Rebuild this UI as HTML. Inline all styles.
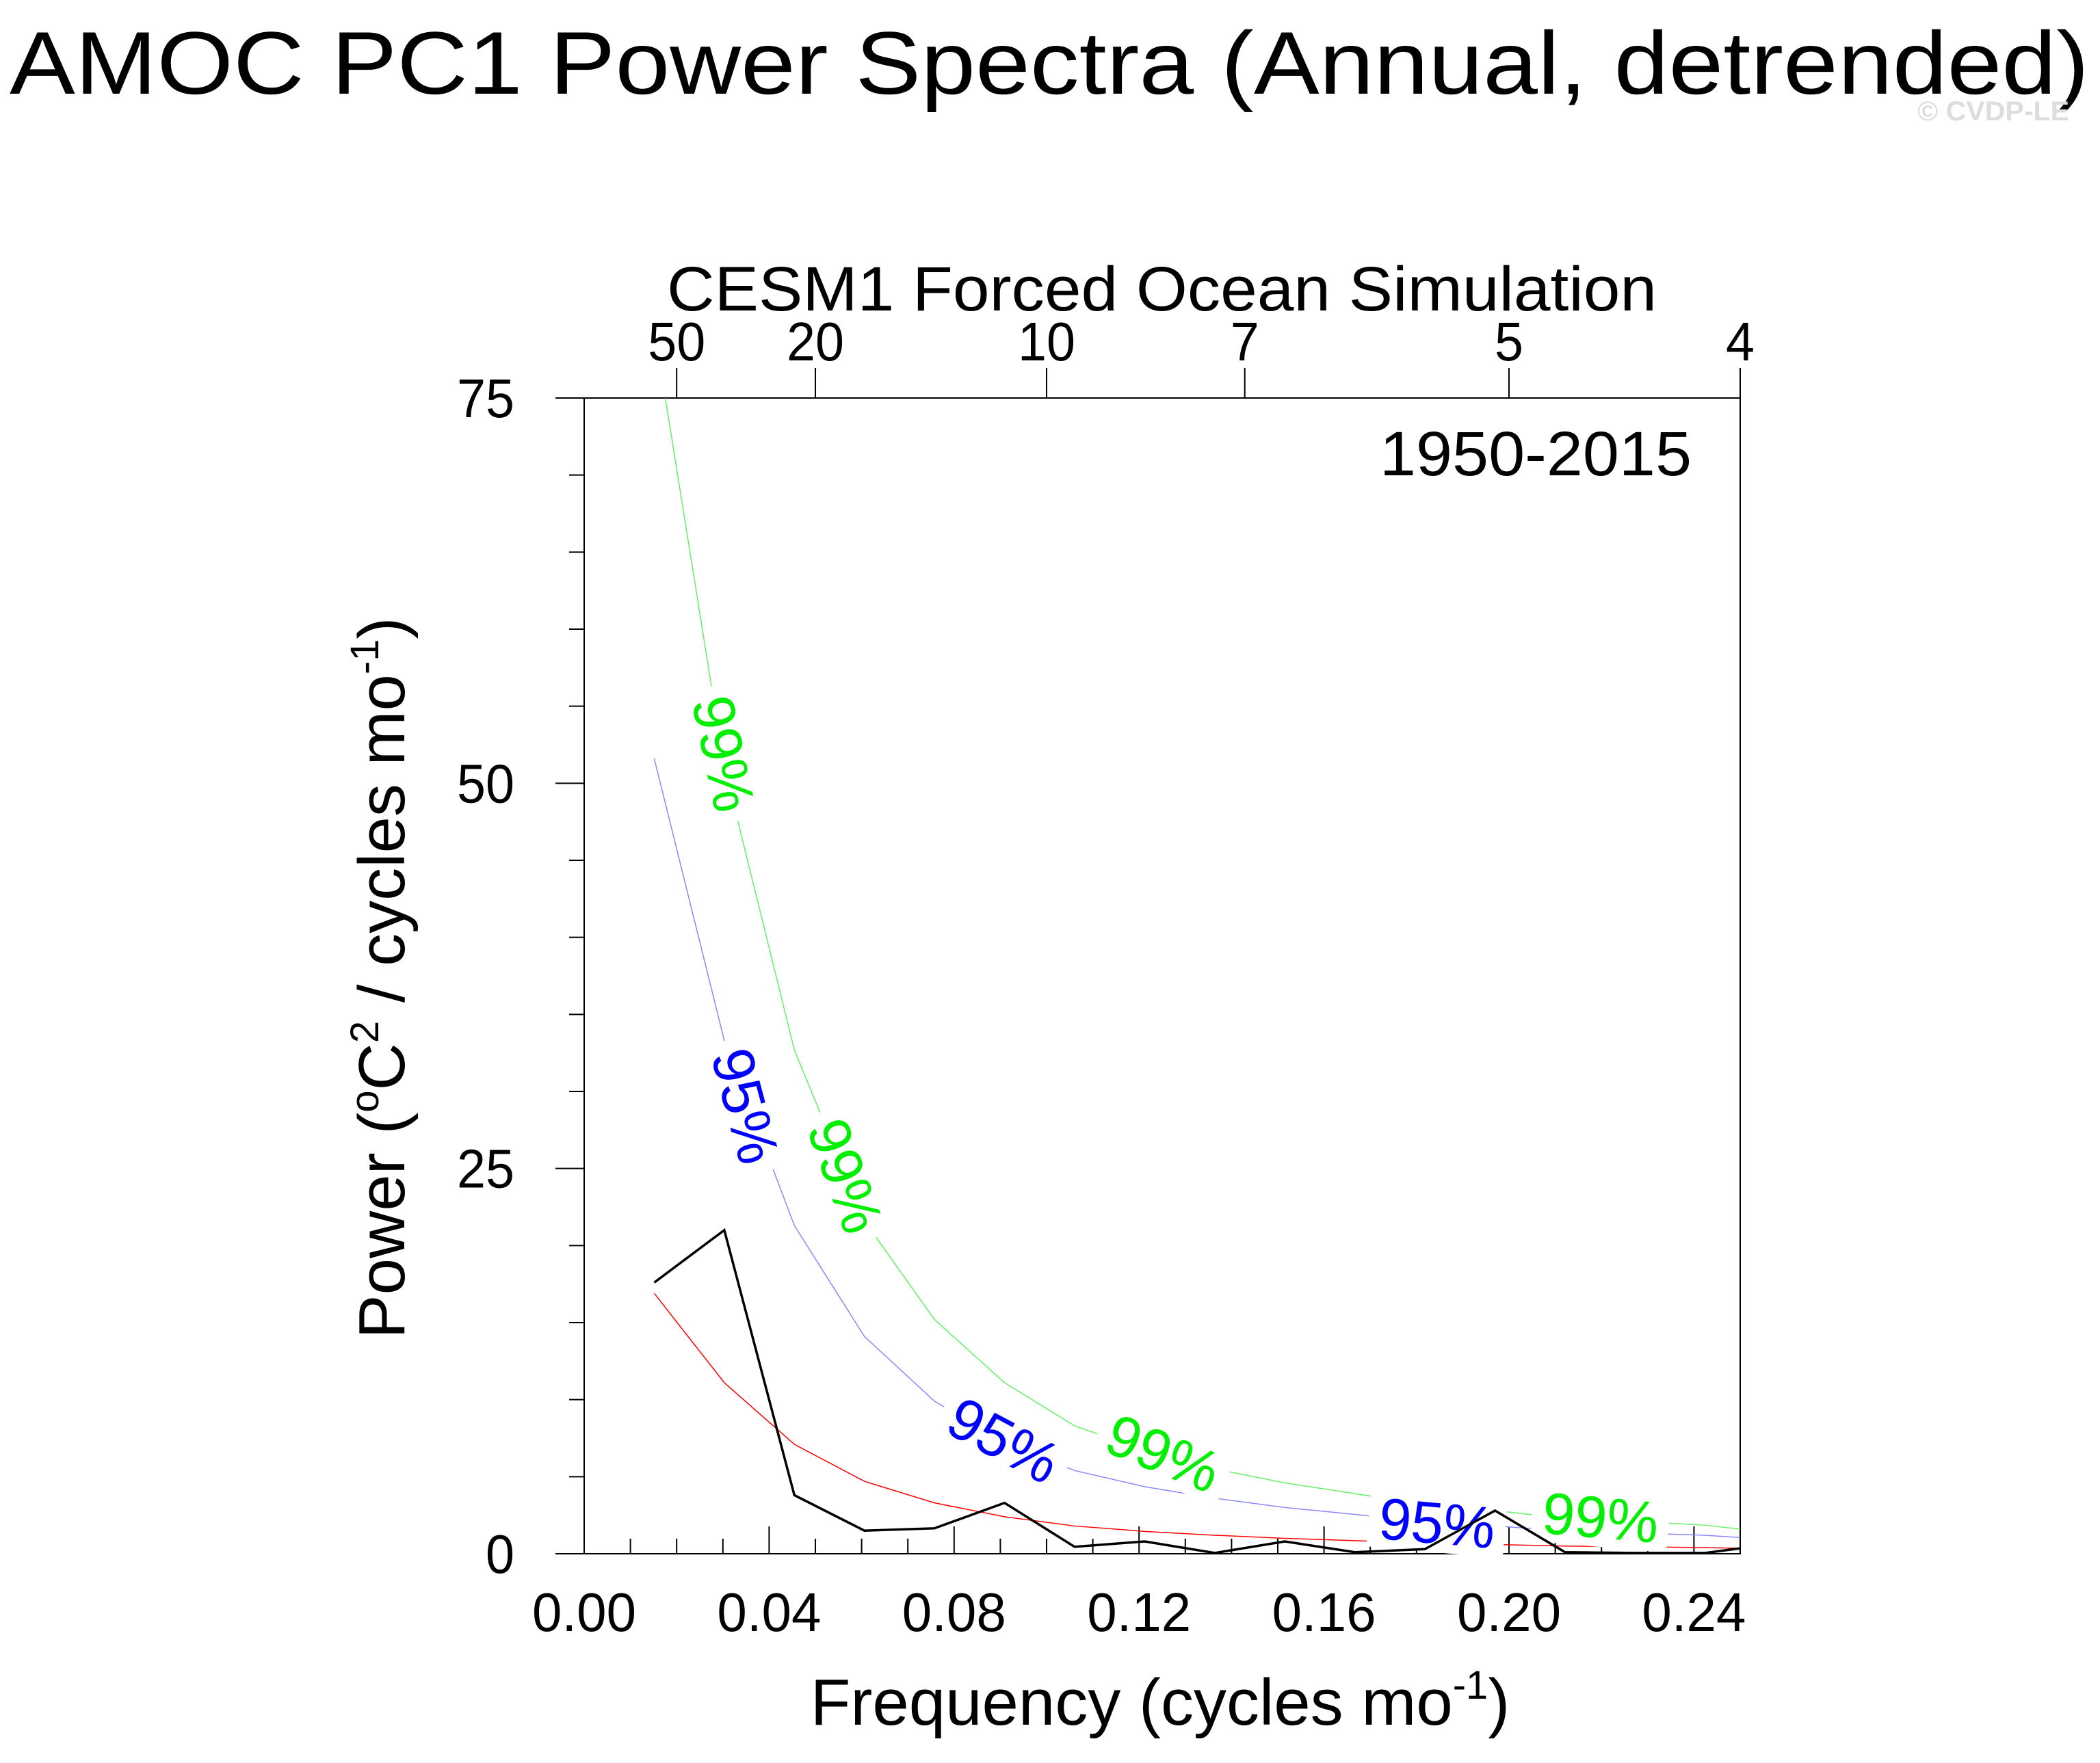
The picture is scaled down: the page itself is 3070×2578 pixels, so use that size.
<!DOCTYPE html>
<html><head><meta charset="utf-8"><style>html,body{margin:0;padding:0;background:#fff}svg{display:block}text{font-family:"Liberation Sans",sans-serif}</style></head>
<body>
<svg id="chart" width="3070" height="2578" viewBox="0 0 3070 2578" xmlns="http://www.w3.org/2000/svg">
<defs><clipPath id="clip"><rect x="854" y="582" width="1690" height="1690"/></clipPath></defs>
<text x="14" y="137" font-size="130" textLength="3040" lengthAdjust="spacingAndGlyphs">AMOC PC1 Power Spectra (Annual, detrended)</text>
<text x="2803" y="176" font-size="40" font-weight="bold" fill="#dddddd" textLength="222" lengthAdjust="spacingAndGlyphs">© CVDP-LE</text>
<text x="975" y="454" font-size="92" textLength="1447" lengthAdjust="spacingAndGlyphs">CESM1 Forced Ocean Simulation</text>
<text x="2017" y="695" font-size="92" textLength="456" lengthAdjust="spacingAndGlyphs">1950-2015</text>
<text x="1696" y="2522" font-size="96" text-anchor="middle">Frequency (cycles mo<tspan dy="-38" font-size="58">-1</tspan><tspan dy="38">)</tspan></text>
<text transform="translate(591,1430) rotate(-90)" font-size="96" text-anchor="middle">Power (<tspan dy="-38" font-size="58">o</tspan><tspan dy="38">C</tspan><tspan dy="-38" font-size="58">2</tspan><tspan dy="38"> / cycles mo</tspan><tspan dy="-38" font-size="58">-1</tspan><tspan dy="38">)</tspan></text>
<g id="axes"></g>
<g id="series" clip-path="url(#clip)"></g>
<g id="labels"></g>
<g id="black" clip-path="url(#clip)"></g>
</svg>
<script>
const freqIndex = [1,2,3,4,5,6,7,8,9,10,11,12,13,14,15,16,16.5];
const spectrum = [17.6,21.0,3.8,1.5,1.65,3.3,0.45,0.8,0.05,0.8,0.1,0.3,2.8,0.1,0.05,0.05,0.35];
const rednoise = [16.9,11.1,7.1,4.7,3.3,2.4,1.8,1.45,1.2,1.0,0.85,0.7,0.6,0.5,0.45,0.4,0.35];
const conf95 = [51.6,33.3,21.3,14.1,9.9,7.2,5.4,4.35,3.6,3.0,2.55,2.1,1.8,1.5,1.35,1.2,1.05];
const conf99 = [79.5,51.1,32.7,21.6,15.2,11.1,8.3,6.7,5.5,4.6,3.9,3.2,2.8,2.3,2.1,1.85,1.6];
const xTicks = [0,0.04,0.08,0.12,0.16,0.20,0.24];
const xTickLabels = ["0.00","0.04","0.08","0.12","0.16","0.20","0.24"];
const yTicks = [0,25,50,75];
const periods = [50,20,10,7,5,4];
const NS="http://www.w3.org/2000/svg";
const X0=854,X1=2544,Y0=582,Y1=2272;
const X=f=>X0+f/0.25*(X1-X0);
const Y=v=>Y1-v/75*(Y1-Y0);
const freq=i=>i/66;
function mk(tag,attrs,parent){const e=document.createElementNS(NS,tag);for(const k in attrs)e.setAttribute(k,attrs[k]);parent.appendChild(e);return e;}
const axes=document.getElementById('axes');
let e=mk('rect',{x:X0,y:Y0,width:X1-X0,height:Y1-Y0,fill:'none',stroke:'#000','stroke-width':2},axes);


for(let k=0;k<=25;k++){const x=X(k*0.01);const major=k%4===0;
 e=mk('line',{x1:x,x2:x,y1:Y1,y2:Y1-(major?40:22),stroke:'#000','stroke-width':2},axes);
 
 }
xTicks.forEach((t,i)=>{e=mk('text',{x:X(t)-76,y:2385,'font-size':80,textLength:152,lengthAdjust:'spacingAndGlyphs'},axes);e.textContent=xTickLabels[i];
 
 });
for(let v=0;v<=75;v+=5){const major=v%25===0;
 e=mk('line',{x1:X0-(major?42:22),x2:X0,y1:Y(v),y2:Y(v),stroke:'#000','stroke-width':2},axes);
 
 }
yTicks.forEach(t=>{const s=String(t);const w=s.length*42;e=mk('text',{x:752-w,y:Y(t)+28,'font-size':80,textLength:w,lengthAdjust:'spacingAndGlyphs'},axes);e.textContent=s;
 
 });
periods.forEach(p=>{const x=X(1/p);
 e=mk('line',{x1:x,x2:x,y1:Y0,y2:Y0-44,stroke:'#000','stroke-width':2},axes);
 
 
 const s=String(p);const w=s.length*42;
 e=mk('text',{x:x-w/2,y:527,'font-size':80,textLength:w,lengthAdjust:'spacingAndGlyphs'},axes);e.textContent=s;
 
 });
function pts(arr){return arr.map((v,i)=>X(freq(freqIndex[i]))+','+Y(v)).join(' ');}
const ser=document.getElementById('series');
e=mk('polyline',{points:pts(rednoise),fill:'none',stroke:'#ff0000','stroke-width':1.5},ser);


e=mk('polyline',{points:pts(conf95),fill:'none',stroke:'#8888ff','stroke-width':1.5},ser);


e=mk('polyline',{points:pts(conf99),fill:'none',stroke:'#66ee66','stroke-width':1.5},ser);


const labs=document.getElementById('labels');
const lbl=[[1059,1102,78,'#00ee00','99%'],[1237,1719,70,'#00ee00','99%'],[1701,2124,22,'#00ee00','99%'],[2340,2218,5,'#00ee00','99%'],[1091,1617,75,'#0000ff','95%'],[1468,2105,28,'#0000ff','95%'],[2101,2226,5,'#0000ff','95%']];
lbl.forEach(l=>{const g=mk('g',{transform:`translate(${l[0]},${l[1]}) rotate(${l[2]})`},labs);
 
 
 mk('rect',{x:-100,y:-44,width:200,height:88,fill:'#fff'},g);
 const t=mk('text',{x:-85,y:31,'font-size':86,textLength:170,lengthAdjust:'spacingAndGlyphs',fill:l[3]},g);t.textContent=l[4];});
e=mk('polyline',{points:pts(spectrum),fill:'none',stroke:'#000','stroke-width':3.5},document.getElementById('black'));


</script>
</body></html>
